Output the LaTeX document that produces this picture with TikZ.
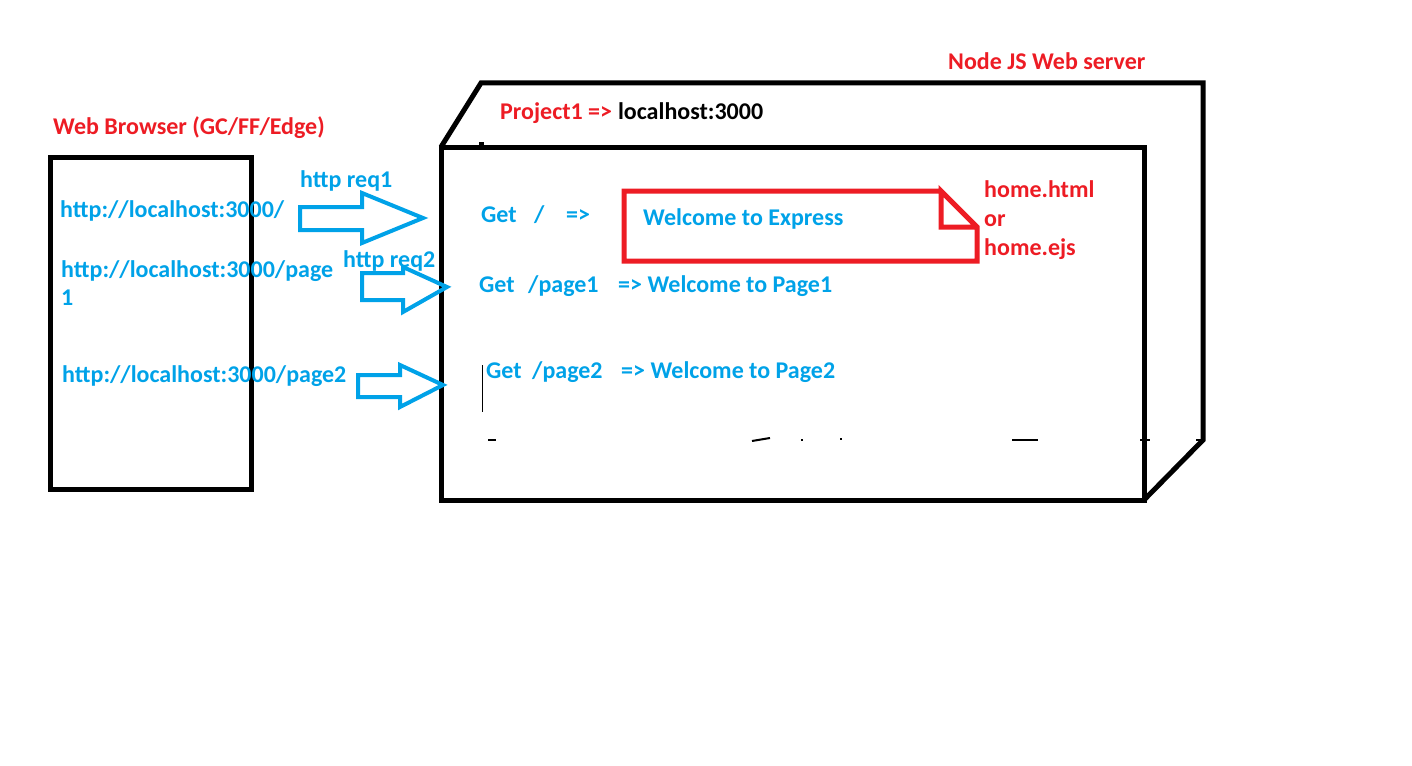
\documentclass[tikz,border=0pt]{standalone}
\usepackage{fontspec}
\setmainfont{Carlito}
\definecolor{pblue}{RGB}{0,162,232}
\definecolor{pred}{RGB}{237,28,36}

\begin{document}
\begin{tikzpicture}[x=1pt, y=-1pt,
  lbl/.style={font=\fontsize{24}{29}\selectfont\bfseries, inner sep=0pt, anchor=base west},
  bluelbl/.style={lbl, text=pblue},
  redlbl/.style={lbl, text=pred},
  blacklbl/.style={lbl, text=black},
  frame/.style={draw=black, line width=5pt, inner sep=0pt, outer sep=0pt, anchor=north west},
  outline/.style={draw=black, line width=5pt, line join=miter},
  blockarrow/.style={draw=pblue, line width=4pt, line join=miter},
  docshape/.style={draw=pred, line width=5pt, line join=miter},
  penmark/.style={draw=black, line width=2pt}]
\useasboundingbox (0,0) rectangle (1412,765);

% browser window
\node (browser) [frame, minimum width=201pt, minimum height=332pt] at (50,157) {};
\node (browsertitle) [redlbl] at (53,135) {Web Browser (GC/FF/Edge)};
\node (url1) [bluelbl] at (60,217) {http://localhost:3000/};
\node (url2) [bluelbl] at (61,277) {http://localhost:3000/page};
\node (url2b) [bluelbl] at (61,305) {1};
\node (url3) [bluelbl] at (62,382) {http://localhost:3000/page2};

% server box (front face and back outline)
\node (server) [frame, minimum width=703pt, minimum height=353pt] at (441,147) {};
\coordinate (backtl) at (481,83);
\coordinate (backtr) at (1203,83);
\coordinate (backbr) at (1203,440);
\draw[outline] (server.north west) -- (backtl) -- (backtr) -- (backbr) -- (server.south east);
\node (servertitle) [redlbl] at (948,70) {Node JS Web server};
\node (project) [redlbl] at (500,120) {Project1 =>};
\node (host) [blacklbl] at (project.base east) {\ localhost:3000};

% stray pen marks inside the server box
\fill (479,142) rectangle (484,148);
\draw[line width=1pt] (482,365) -- (482,412);
\draw[penmark] (488,440) -- (496,440);
\draw[penmark] (752,441) -- (770,438);
\draw[penmark] (801,440) -- (803,440);
\draw[penmark] (840,439) -- (842,439);
\draw[penmark] (1012,440) -- (1038,440);
\draw[penmark] (1140,440) -- (1150,440);
\draw[penmark] (1196,440) -- (1203,440);

% request arrows
\draw[blockarrow] (300,207) -- (362,207) -- (362,193) -- (423,218) -- (362,243) -- (362,230) -- (300,230) -- cycle;
\draw[blockarrow] (362,273) -- (403,273) -- (403,267) -- (447,287) -- (403,312) -- (403,300) -- (362,300) -- cycle;
\draw[blockarrow] (358,375) -- (400,375) -- (400,365) -- (443,385) -- (400,407) -- (400,397) -- (358,397) -- cycle;
\node (req1) [bluelbl] at (300,187) {http req1};
\node (req2) [bluelbl] at (343,267) {http req2};

% routes
\node (r1get) [bluelbl] at (481,222) {Get};
\node (r1path) [bluelbl] at (534,222) {/};
\node (r1arrow) [bluelbl] at (566,222) {=>};
\node (r2get) [bluelbl] at (479,292) {Get};
\node (r2path) [bluelbl] at (528,292) {/page1};
\node (r2res) [bluelbl] at (618,292) {=> Welcome to Page1};
\node (r3get) [bluelbl] at (486,378) {Get};
\node (r3path) [bluelbl] at (532,378) {/page2};
\node (r3res) [bluelbl] at (621,378) {=> Welcome to Page2};

% view file with folded corner
\draw[docshape] (941,191) -- (624,191) -- (624,261) -- (977,261) -- (977,227) -- (941,191) -- (941,227) -- (977,227);
\node (welcome) [bluelbl] at (643,225) {Welcome to Express};
\node (view1) [redlbl] at (984,197) {home.html};
\node (view2) [redlbl] at (984,226) {or};
\node (view3) [redlbl] at (984,255) {home.ejs};
\end{tikzpicture}
\end{document}
